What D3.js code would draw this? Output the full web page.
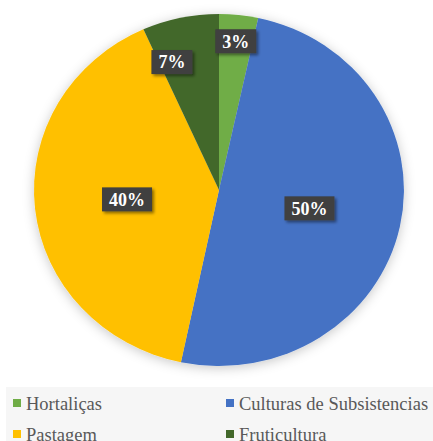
<!DOCTYPE html>
<html>
<head>
<meta charset="utf-8">
<script src="https://cdn.jsdelivr.net/npm/d3@7"></script>
<style>
  html, body { margin: 0; padding: 0; background: #fff; }
  svg { display: block; }
</style>
</head>
<body>
<div id="chart"></div>
<script>
// data
var categories = ["Hortaliças", "Culturas de Subsistencias", "Pastagem", "Fruticultura"];
var values = [3.4, 49.9, 40.0, 6.7];
var labels = ["3%", "50%", "40%", "7%"];
var colorList = ["#70ad47", "#4472c4", "#ffc000", "#43682b"];

var width = 433, height = 441;
var cx = 219, cy = 190, rx = 185, ry = 176;

var svg = d3.select("#chart").append("svg")
  .attr("width", width)
  .attr("height", height);

var defs = svg.append("defs");

// soft glow round the pie
var glow = defs.append("filter").attr("id", "glow")
  .attr("x", "-20%").attr("y", "-20%").attr("width", "140%").attr("height", "140%");
glow.append("feGaussianBlur").attr("in", "SourceAlpha").attr("stdDeviation", 6).attr("result", "b");
glow.append("feOffset").attr("in", "b").attr("dy", 2).attr("result", "o");
glow.append("feFlood").attr("flood-color", "#000").attr("flood-opacity", 0.22);
glow.append("feComposite").attr("in2", "o").attr("operator", "in").attr("result", "s");
var m1 = glow.append("feMerge");
m1.append("feMergeNode").attr("in", "s");
m1.append("feMergeNode").attr("in", "SourceGraphic");

var boxShadow = defs.append("filter").attr("id", "boxShadow")
  .attr("x", "-30%").attr("y", "-30%").attr("width", "170%").attr("height", "170%");
boxShadow.append("feGaussianBlur").attr("in", "SourceAlpha").attr("stdDeviation", 1.5).attr("result", "b");
boxShadow.append("feOffset").attr("in", "b").attr("dx", 2).attr("dy", 2).attr("result", "o");
boxShadow.append("feFlood").attr("flood-color", "#000").attr("flood-opacity", 0.45);
boxShadow.append("feComposite").attr("in2", "o").attr("operator", "in").attr("result", "s");
var m2 = boxShadow.append("feMerge");
m2.append("feMergeNode").attr("in", "s");
m2.append("feMergeNode").attr("in", "SourceGraphic");

var color = d3.scaleOrdinal().domain(categories).range(colorList);

var pie = d3.pie().sort(null).value(function (d, i) { return values[i]; });
var arcs = pie(categories);

var arc = d3.arc().innerRadius(0).outerRadius(ry);

// legend background
svg.append("rect")
  .attr("x", 6).attr("y", 387)
  .attr("width", width - 6).attr("height", height - 387)
  .attr("fill", "#f6f6f6");

// pie (stretched a little sideways, like the original)
var pieG = svg.append("g")
  .attr("transform", "translate(" + cx + "," + cy + ")")
  .attr("filter", "url(#glow)")
  .append("g")
  .attr("transform", "scale(" + (rx / ry) + ",1)");

pieG.selectAll("path")
  .data(arcs)
  .enter()
  .append("path")
  .attr("d", arc)
  .attr("fill", function (d) { return color(d.data); });

// label placement: radius fraction and where inside the slice
var labelR = [0.85, 0.5, 0.5, 0.77];
var labelT = [0.5, 0.5, 0.5, 0.2];

var labelG = svg.append("g").attr("class", "labels");

arcs.forEach(function (d, i) {
  var a = d.startAngle + (d.endAngle - d.startAngle) * labelT[i];
  var x = cx + Math.sin(a) * rx * labelR[i];
  var y = cy - Math.cos(a) * ry * labelR[i];

  var g = labelG.append("g").attr("transform", "translate(" + x + "," + y + ")");
  var t = g.append("text")
    .attr("text-anchor", "middle")
    .attr("dy", "0.35em")
    .attr("fill", "#fff")
    .style("font-family", "'Liberation Serif', 'Times New Roman', serif")
    .style("font-weight", "bold")
    .style("font-size", "18px")
    .text(labels[i]);
  var bb = t.node().getBBox();
  g.insert("rect", "text")
    .attr("x", bb.x - 7)
    .attr("y", -12)
    .attr("width", bb.width + 14)
    .attr("height", 24)
    .attr("fill", "#3f3f3f")
    .attr("filter", "url(#boxShadow)");
});

// legend
var legend = svg.append("g").attr("class", "legend");
var colX = [13, 226], rowY = [399, 430];

categories.forEach(function (c, i) {
  var lx = colX[i % 2], ly = rowY[Math.floor(i / 2)];
  legend.append("rect")
    .attr("x", lx).attr("y", ly)
    .attr("width", 8).attr("height", 8)
    .attr("fill", color(c));
  legend.append("text")
    .attr("x", lx + 13)
    .attr("y", ly + 11)
    .attr("fill", "#595959")
    .style("font-family", "'Liberation Serif', 'Times New Roman', serif")
    .style("font-size", "18.5px")
    .text(c);
});
</script>
</body>
</html>
